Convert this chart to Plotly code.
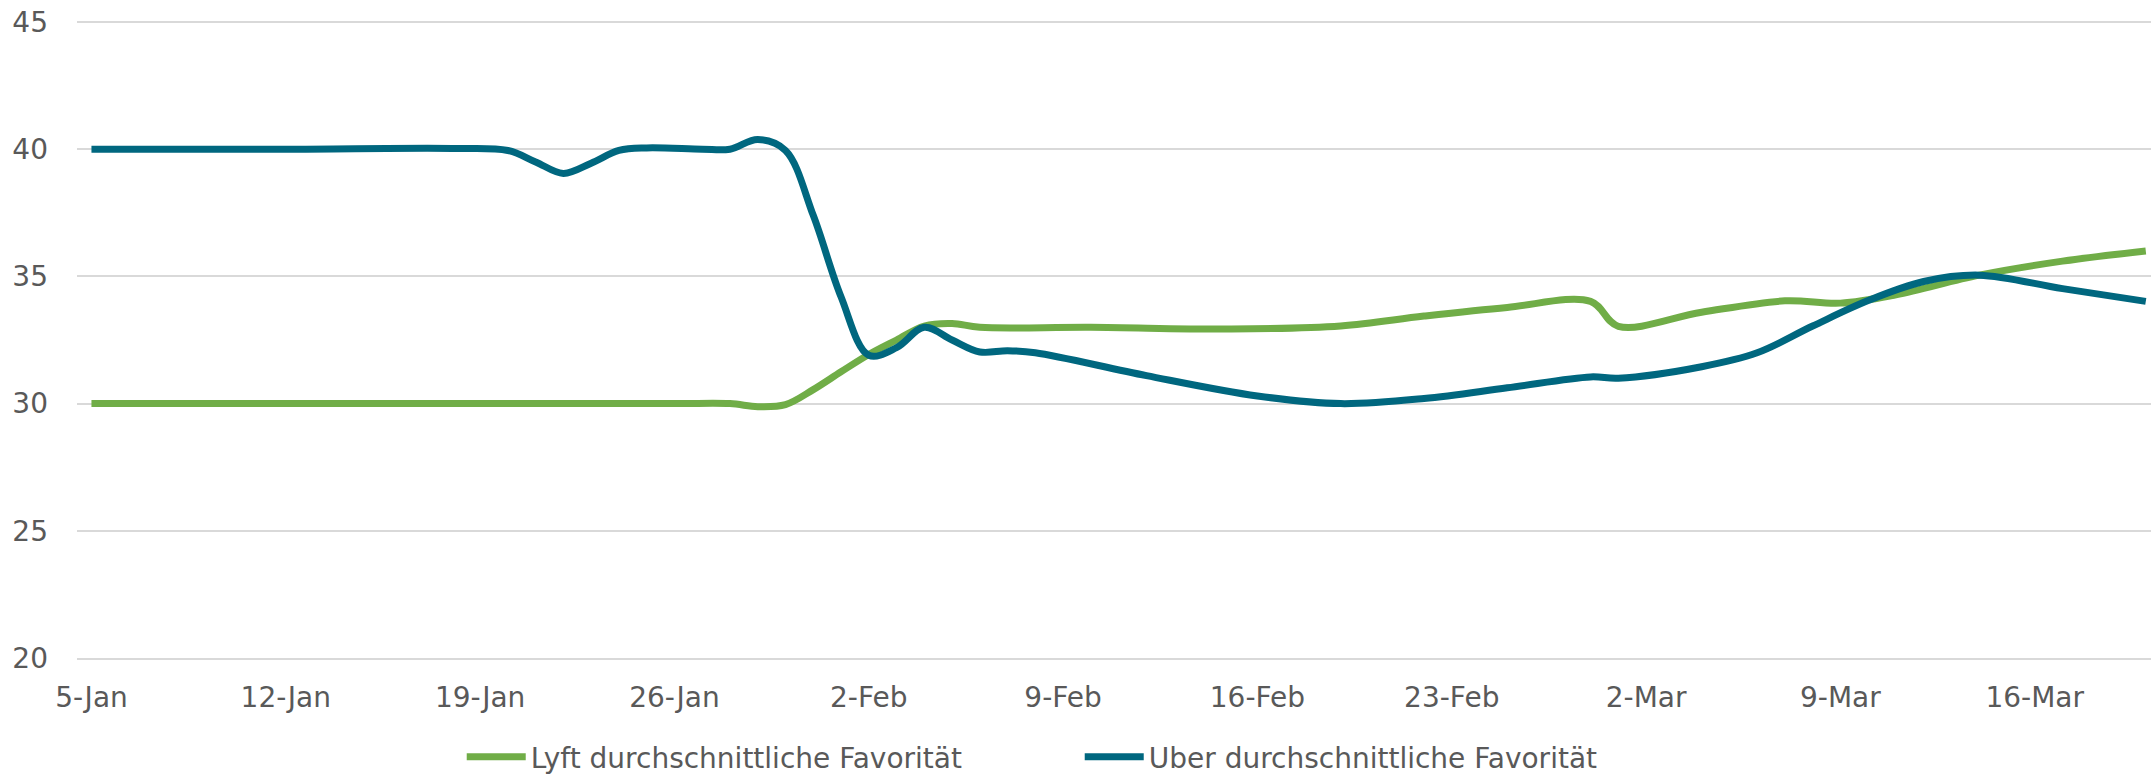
import plotly.graph_objects as go

# ---- data ----
lyft_dates = ["2025-01-05", "2025-01-12", "2025-01-19", "2025-01-26", "2025-01-28",
              "2025-01-29", "2025-01-30", "2025-01-31", "2025-02-01", "2025-02-02",
              "2025-02-03", "2025-02-04", "2025-02-05", "2025-02-06", "2025-02-10",
              "2025-02-15", "2025-02-19", "2025-02-22", "2025-02-25", "2025-02-28",
              "2025-03-01", "2025-03-04", "2025-03-07", "2025-03-09", "2025-03-11",
              "2025-03-14", "2025-03-17", "2025-03-20"]
lyft_values = [30, 30, 30, 30, 30,
               29.88, 29.96, 30.55, 31.25, 31.93,
               32.5, 33.05, 33.15, 33.0, 33.0,
               32.93, 33.05, 33.44, 33.78, 34.02,
               33.04, 33.59, 34.04, 33.95, 34.28,
               35.05, 35.6, 36.0]

uber_dates = ["2025-01-05", "2025-01-12", "2025-01-18", "2025-01-20", "2025-01-21",
              "2025-01-22", "2025-01-23", "2025-01-24", "2025-01-25", "2025-01-27",
              "2025-01-28", "2025-01-29", "2025-01-30", "2025-01-31", "2025-02-01",
              "2025-02-02", "2025-02-03", "2025-02-04", "2025-02-05", "2025-02-06",
              "2025-02-07", "2025-02-08", "2025-02-12", "2025-02-16", "2025-02-19",
              "2025-02-22", "2025-02-25", "2025-02-28", "2025-03-01", "2025-03-04",
              "2025-03-06", "2025-03-08", "2025-03-10", "2025-03-12", "2025-03-14",
              "2025-03-17", "2025-03-20"]
uber_values = [40, 40, 40.03, 39.95, 39.5,
               39.05, 39.45, 39.95, 40.05, 40.0,
               40.0, 40.38, 39.95, 37.4, 34.2,
               31.9, 32.2, 33.0, 32.5, 32.03,
               32.08, 32.0, 31.1, 30.3, 30.0,
               30.2, 30.62, 31.05, 31.0, 31.45,
               32.0, 33.05, 34.05, 34.8, 35.05,
               34.52, 34.02]

series_names = ["Lyft durchschnittliche Favorität", "Uber durchschnittliche Favorität"]
series_colors = ["#70AD47", "#00677F"]

y_ticks = [20, 25, 30, 35, 40, 45]

FONT = "DejaVu Sans"
FSIZE = 28
TXT = "#595959"

fig = go.Figure()
fig.add_trace(go.Scatter(x=lyft_dates, y=lyft_values, name=series_names[0], mode="lines",
                         line=dict(color=series_colors[0], width=7, shape="spline", smoothing=1)))
fig.add_trace(go.Scatter(x=uber_dates, y=uber_values, name=series_names[1], mode="lines",
                         line=dict(color=series_colors[1], width=7, shape="spline", smoothing=1)))

fig.update_layout(
    width=2151, height=777,
    margin=dict(l=77, r=0, t=21, b=118.5, pad=0, autoexpand=False),
    paper_bgcolor="white", plot_bgcolor="white",
    font=dict(family=FONT, size=FSIZE, color=TXT),
    showlegend=True,
    legend=dict(orientation="h", x=0.1855, xanchor="left",
                yref="container", y=(777 - 757) / 777, yanchor="middle",
                font=dict(family=FONT, size=FSIZE, color=TXT),
                itemwidth=59, entrywidth=544, bgcolor="rgba(0,0,0,0)"),
)
fig.update_xaxes(
    type="date", range=["2025-01-04 11:30", "2025-03-20 04:30"],
    tick0="2025-01-05", dtick=7 * 86400000, tickformat="%-d-%b",
    showgrid=False, showline=True, linecolor="#D9D9D9", linewidth=1.5,
    ticks="", ticklabelstandoff=14, zeroline=False, automargin=False,
    tickfont=dict(family=FONT, size=FSIZE, color=TXT),
)
fig.update_yaxes(
    range=[20, 45.04], tickvals=y_ticks, showgrid=True, gridcolor="#D9D9D9", gridwidth=1.5,
    zeroline=False, showline=False, ticks="", ticklabelstandoff=28, automargin=False,
    tickfont=dict(family=FONT, size=FSIZE, color=TXT),
)

fig.write_html("out.html",
               config={"displayModeBar": False},
               post_script="document.body.style.margin='0';document.body.style.overflow='hidden';")
